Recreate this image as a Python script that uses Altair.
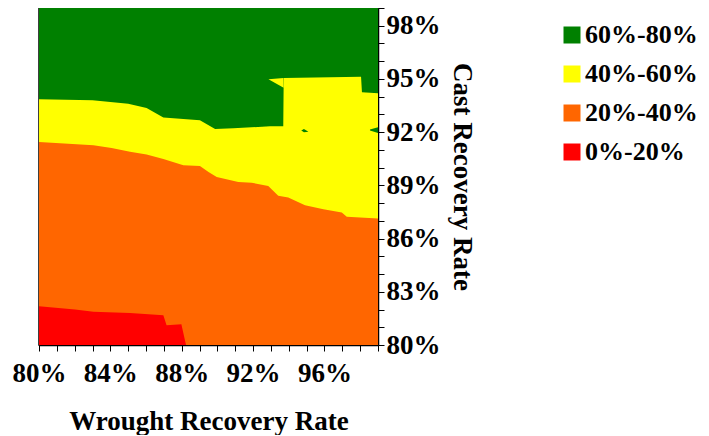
import altair as alt
import pandas as pd

# Legend bands and colours
bands = ["60%-80%", "40%-60%", "20%-40%", "0%-20%"]
colors = ["#008000", "#FFFF00", "#FF6600", "#FF0000"]

# Upper edge of the green region (full plot)
green_x = [80, 99]
green_top = [99, 99]

# Upper edge of the yellow region (yellow / green boundary)
yellow_x = [80, 83, 85, 86.03, 86.97, 89.02, 89.87, 90.9, 92.95, 93.69, 93.71, 93.73, 98.05, 98.1, 99]
yellow_top = [93.86, 93.8, 93.6, 93.36, 92.83, 92.67, 92.18, 92.22, 92.33, 92.33, 94.5, 95.05, 95.13, 94.25, 94.2]

# Small yellow tip overhanging to the left near (93%, 95%)
tip_x = [92.86, 93.71]
tip_top = [94.98, 95.05]
tip_bottom = [94.98, 94.5]

# Upper edge of the orange region (orange / yellow boundary)
orange_x = [80, 83.05, 84.07, 85.1, 86.03, 86.97, 88.09, 89.02, 89.5, 89.96, 91.17, 91.92, 92.85, 93.41, 93.97, 94.91, 95.94, 96.97, 97.25, 99]
orange_top = [91.45, 91.26, 91.11, 90.89, 90.74, 90.48, 90.14, 90.09, 89.75, 89.47, 89.19, 89.15, 88.97, 88.41, 88.31, 87.88, 87.66, 87.47, 87.23, 87.13]

# Upper edge of the red region (red / orange boundary)
red_x = [80, 82.02, 83.05, 85.1, 86.97, 87.15, 87.98, 88.24]
red_top = [82.18, 82.0, 81.87, 81.81, 81.68, 81.12, 81.17, 80.0]

# Small green specks inside the yellow region
speck_grp = ["a", "a", "a", "b", "b"]
speck_x = [94.7, 94.85, 95.1, 98.55, 99]
speck_top = [92.1, 92.18, 92.02, 92.15, 92.28]
speck_bottom = [92.1, 92.0, 92.02, 92.1, 91.95]

X_TICKS = list(range(80, 100))
Y_TICKS = list(range(80, 100))
FONT = "Liberation Serif"
FS = 27


def band_df(xs, tops, band, bottoms=None, grp=None):
    d = pd.DataFrame({"x": xs, "top": tops})
    d["bottom"] = bottoms if bottoms is not None else [80] * len(xs)
    d["band"] = band
    d["grp"] = grp if grp is not None else ["g"] * len(xs)
    return d


color = alt.Color(
    "band:N",
    scale=alt.Scale(domain=bands, range=colors),
    legend=alt.Legend(
        title=None,
        orient="none",
        legendX=520,
        legendY=14,
        symbolType="square",
        symbolSize=289,
        symbolStrokeWidth=0,
        symbolOpacity=1,
        labelFont=FONT,
        labelFontSize=26,
        labelFontWeight="bold",
        labelColor="black",
        labelOffset=0,
        rowPadding=13,
        padding=0,
        labelLimit=300,
    ),
)

xenc = alt.X(
    "x:Q",
    scale=alt.Scale(domain=[80, 99], nice=False, zero=False),
    axis=alt.Axis(
        title="Wrought Recovery Rate",
        values=X_TICKS,
        labelExpr="datum.value % 4 == 0 ? datum.value + '%' : ''",
        labelFontSize={"condition": {"test": "datum.value % 4 != 0", "value": 0}, "value": FS},
        labelFlush=False,
        labelOverlap=False,
        tickSize=6,
        labelPadding=9,
        titlePadding=22,
        grid=False,
    ),
)
yenc = alt.Y(
    "top:Q",
    stack=None,
    scale=alt.Scale(domain=[80, 99], nice=False, zero=False),
    axis=alt.Axis(
        title="Cast Recovery Rate",
        orient="right",
        values=Y_TICKS,
        labelExpr="(datum.value - 80) % 3 == 0 ? datum.value + '%' : ''",
        labelFontSize={"condition": {"test": "(datum.value - 80) % 3 != 0", "value": 0}, "value": FS},
        labelFlush=False,
        labelOverlap=False,
        tickSize=6,
        labelPadding=2,
        titlePadding=7,
        grid=False,
    ),
)
y2enc = alt.Y2("bottom:Q")


def layer(df):
    return alt.Chart(df).mark_area(opacity=1, strokeWidth=0, interpolate="linear").encode(
        x=xenc, y=yenc, y2=y2enc, color=color, detail="grp:N"
    )


layers = [
    layer(band_df(green_x, green_top, bands[0])),
    layer(band_df(yellow_x, yellow_top, bands[1])),
    layer(band_df(tip_x, tip_top, bands[1], bottoms=tip_bottom)),
    layer(band_df(orange_x, orange_top, bands[2])),
    layer(band_df(red_x, red_top, bands[3])),
    layer(band_df(speck_x, speck_top, bands[0], bottoms=speck_bottom, grp=speck_grp)),
]

chart = (
    alt.layer(*layers)
    .properties(
        width=339,
        height=337,
        autosize=alt.AutoSizeParams(type="none"),
        padding={"left": 31, "top": 0, "right": 323, "bottom": 90},
    )
    .configure_view(stroke="black", strokeWidth=1.5)
    .configure_axis(
        labelFont=FONT,
        labelFontSize=FS,
        labelFontWeight="bold",
        labelColor="black",
        titleFont=FONT,
        titleFontSize=FS,
        titleFontWeight="bold",
        titleColor="black",
        domainColor="black",
        domainWidth=1.5,
        tickColor="black",
        tickWidth=1,
    )
)

chart.save("out.html", embed_options={"renderer": "svg", "actions": False})
